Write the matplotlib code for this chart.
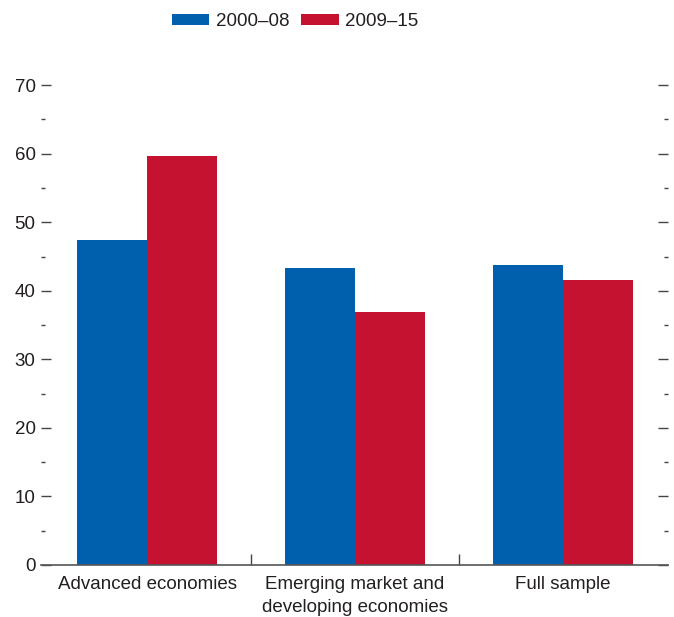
import numpy as np
import matplotlib.pyplot as plt
from matplotlib.ticker import MultipleLocator

# data
groups = ['Advanced economies', 'Emerging market and\ndeveloping economies', 'Full sample']
series = ['2000\u201308', '2009\u201315']
vals_2000_08 = [47.4, 43.3, 43.7]
vals_2009_15 = [59.6, 36.9, 41.6]
yticks = [0, 10, 20, 30, 40, 50, 60, 70]

blue = '#0060AE'
red = '#C41230'
txt = '#231F20'

plt.rcParams['font.family'] = ['Liberation Sans', 'DejaVu Sans']
plt.rcParams['font.size'] = 13.5

fig = plt.figure(figsize=(6.74, 6.17), dpi=100)
ax = fig.add_axes([0.061, 0.0843, 0.93, 0.7777])

x = np.arange(len(groups))
w = 0.336
ax.bar(x - w / 2, vals_2000_08, w, color=blue, label=series[0])
ax.bar(x + w / 2, vals_2009_15, w, color=red, label=series[1])

ax.set_xlim(-0.51, 2.505)
ax.set_ylim(0, 70)

for s in ['left', 'right', 'top']:
    ax.spines[s].set_visible(False)
ax.spines['bottom'].set_color('#555555')
ax.spines['bottom'].set_linewidth(1.2)

ax.set_yticks(yticks)
ax.yaxis.set_minor_locator(MultipleLocator(5))
ax.tick_params(axis='y', which='major', direction='in', length=7, width=1,
               left=True, right=True, labelleft=True, labelright=False,
               colors='#444444', labelcolor=txt, pad=4)
ax.tick_params(axis='y', which='minor', direction='in', length=3, width=1,
               left=True, right=True, colors='#444444')

ax.set_xticks(x)
ax.set_xticklabels(groups, color=txt, linespacing=1.45)
ax.set_xticks([0.5, 1.5], minor=True)
ax.tick_params(axis='x', which='major', length=0, pad=8)
ax.tick_params(axis='x', which='minor', direction='in', length=8, width=1, colors='#444444')

fig.legend(loc='center', bbox_to_anchor=(0.438, 0.965), ncol=2, frameon=False,
           handlelength=2.0, handleheight=0.55, handletextpad=0.35, columnspacing=0.65,
           fontsize=13.5, labelcolor=txt)

plt.savefig('out.png', dpi=100)
